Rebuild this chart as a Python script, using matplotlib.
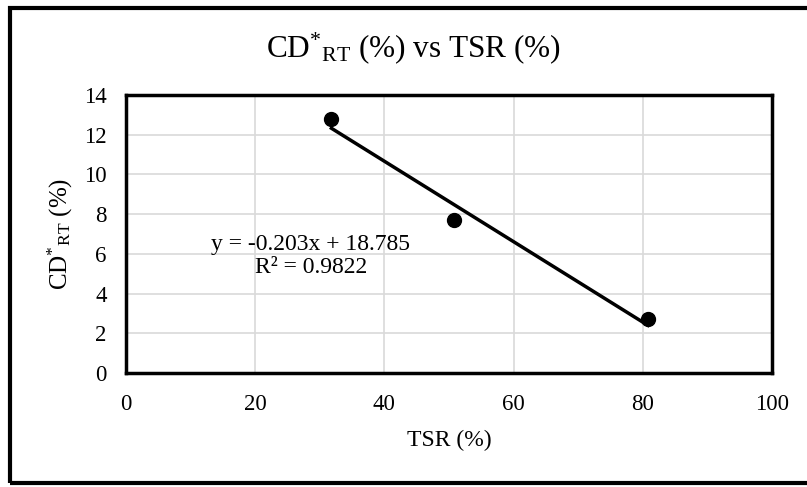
import numpy as np
import matplotlib.pyplot as plt
from matplotlib.patches import Rectangle

plt.rcParams['font.family'] = ['Liberation Serif', 'DejaVu Serif']
plt.rcParams['mathtext.fontset'] = 'custom'
plt.rcParams['mathtext.rm'] = 'Liberation Serif'
plt.rcParams['mathtext.it'] = 'Liberation Serif:italic'

# data
tsr = [31.8, 50.8, 80.8]
cd_rt = [12.8, 7.7, 2.7]
eq_text = "y = -0.203x + 18.785\nR² = 0.9822"

W, H = 807, 487
fig = plt.figure(figsize=(W / 100, H / 100), dpi=100)
ax = fig.add_axes([126 / W, (H - 373) / H, (772 - 126) / W, (373 - 95) / H])

# outer chart border
fig.patches.append(Rectangle((10 / W, 4 / H), 2, (479 - 4) / H, transform=fig.transFigure,
                             fill=False, edgecolor='black', linewidth=3))

# trendline
coef = np.polyfit(tsr, cd_rt, 1)
xl = np.array([min(tsr), max(tsr)])
ax.plot(xl, np.polyval(coef, xl), color='black', linewidth=2.5, zorder=3)
ax.plot(tsr, cd_rt, 'o', color='black', markersize=10, zorder=4)

ax.text(28.6, 5.9, eq_text, fontsize=17, ha='center', va='center', linespacing=1.15)

ax.set_xlim(0, 100)
ax.set_ylim(0, 14)
ax.set_xticks(range(0, 101, 20))
ax.set_yticks(range(0, 15, 2))
ax.grid(True, color='#d9d9d9', linewidth=1.2)
ax.set_axisbelow(True)
for s in ax.spines.values():
    s.set_linewidth(2.5)
ax.tick_params(axis='both', length=0, labelsize=16.5)
ax.tick_params(axis='y', pad=14)
ax.tick_params(axis='x', pad=15)

fig.text(414 / W, 1 - 48 / H, r'CD$^{*}{}_{\mathrm{RT}}$ (%) vs TSR (%)', fontsize=22.5,
         ha='center', va='center')
ax.set_xlabel('TSR (%)', fontsize=17, labelpad=11)
ax.set_ylabel(r'CD$^{*}{}_{\mathrm{RT}}$ (%)', fontsize=18, labelpad=6)

fig.savefig('out.png', dpi=100)
